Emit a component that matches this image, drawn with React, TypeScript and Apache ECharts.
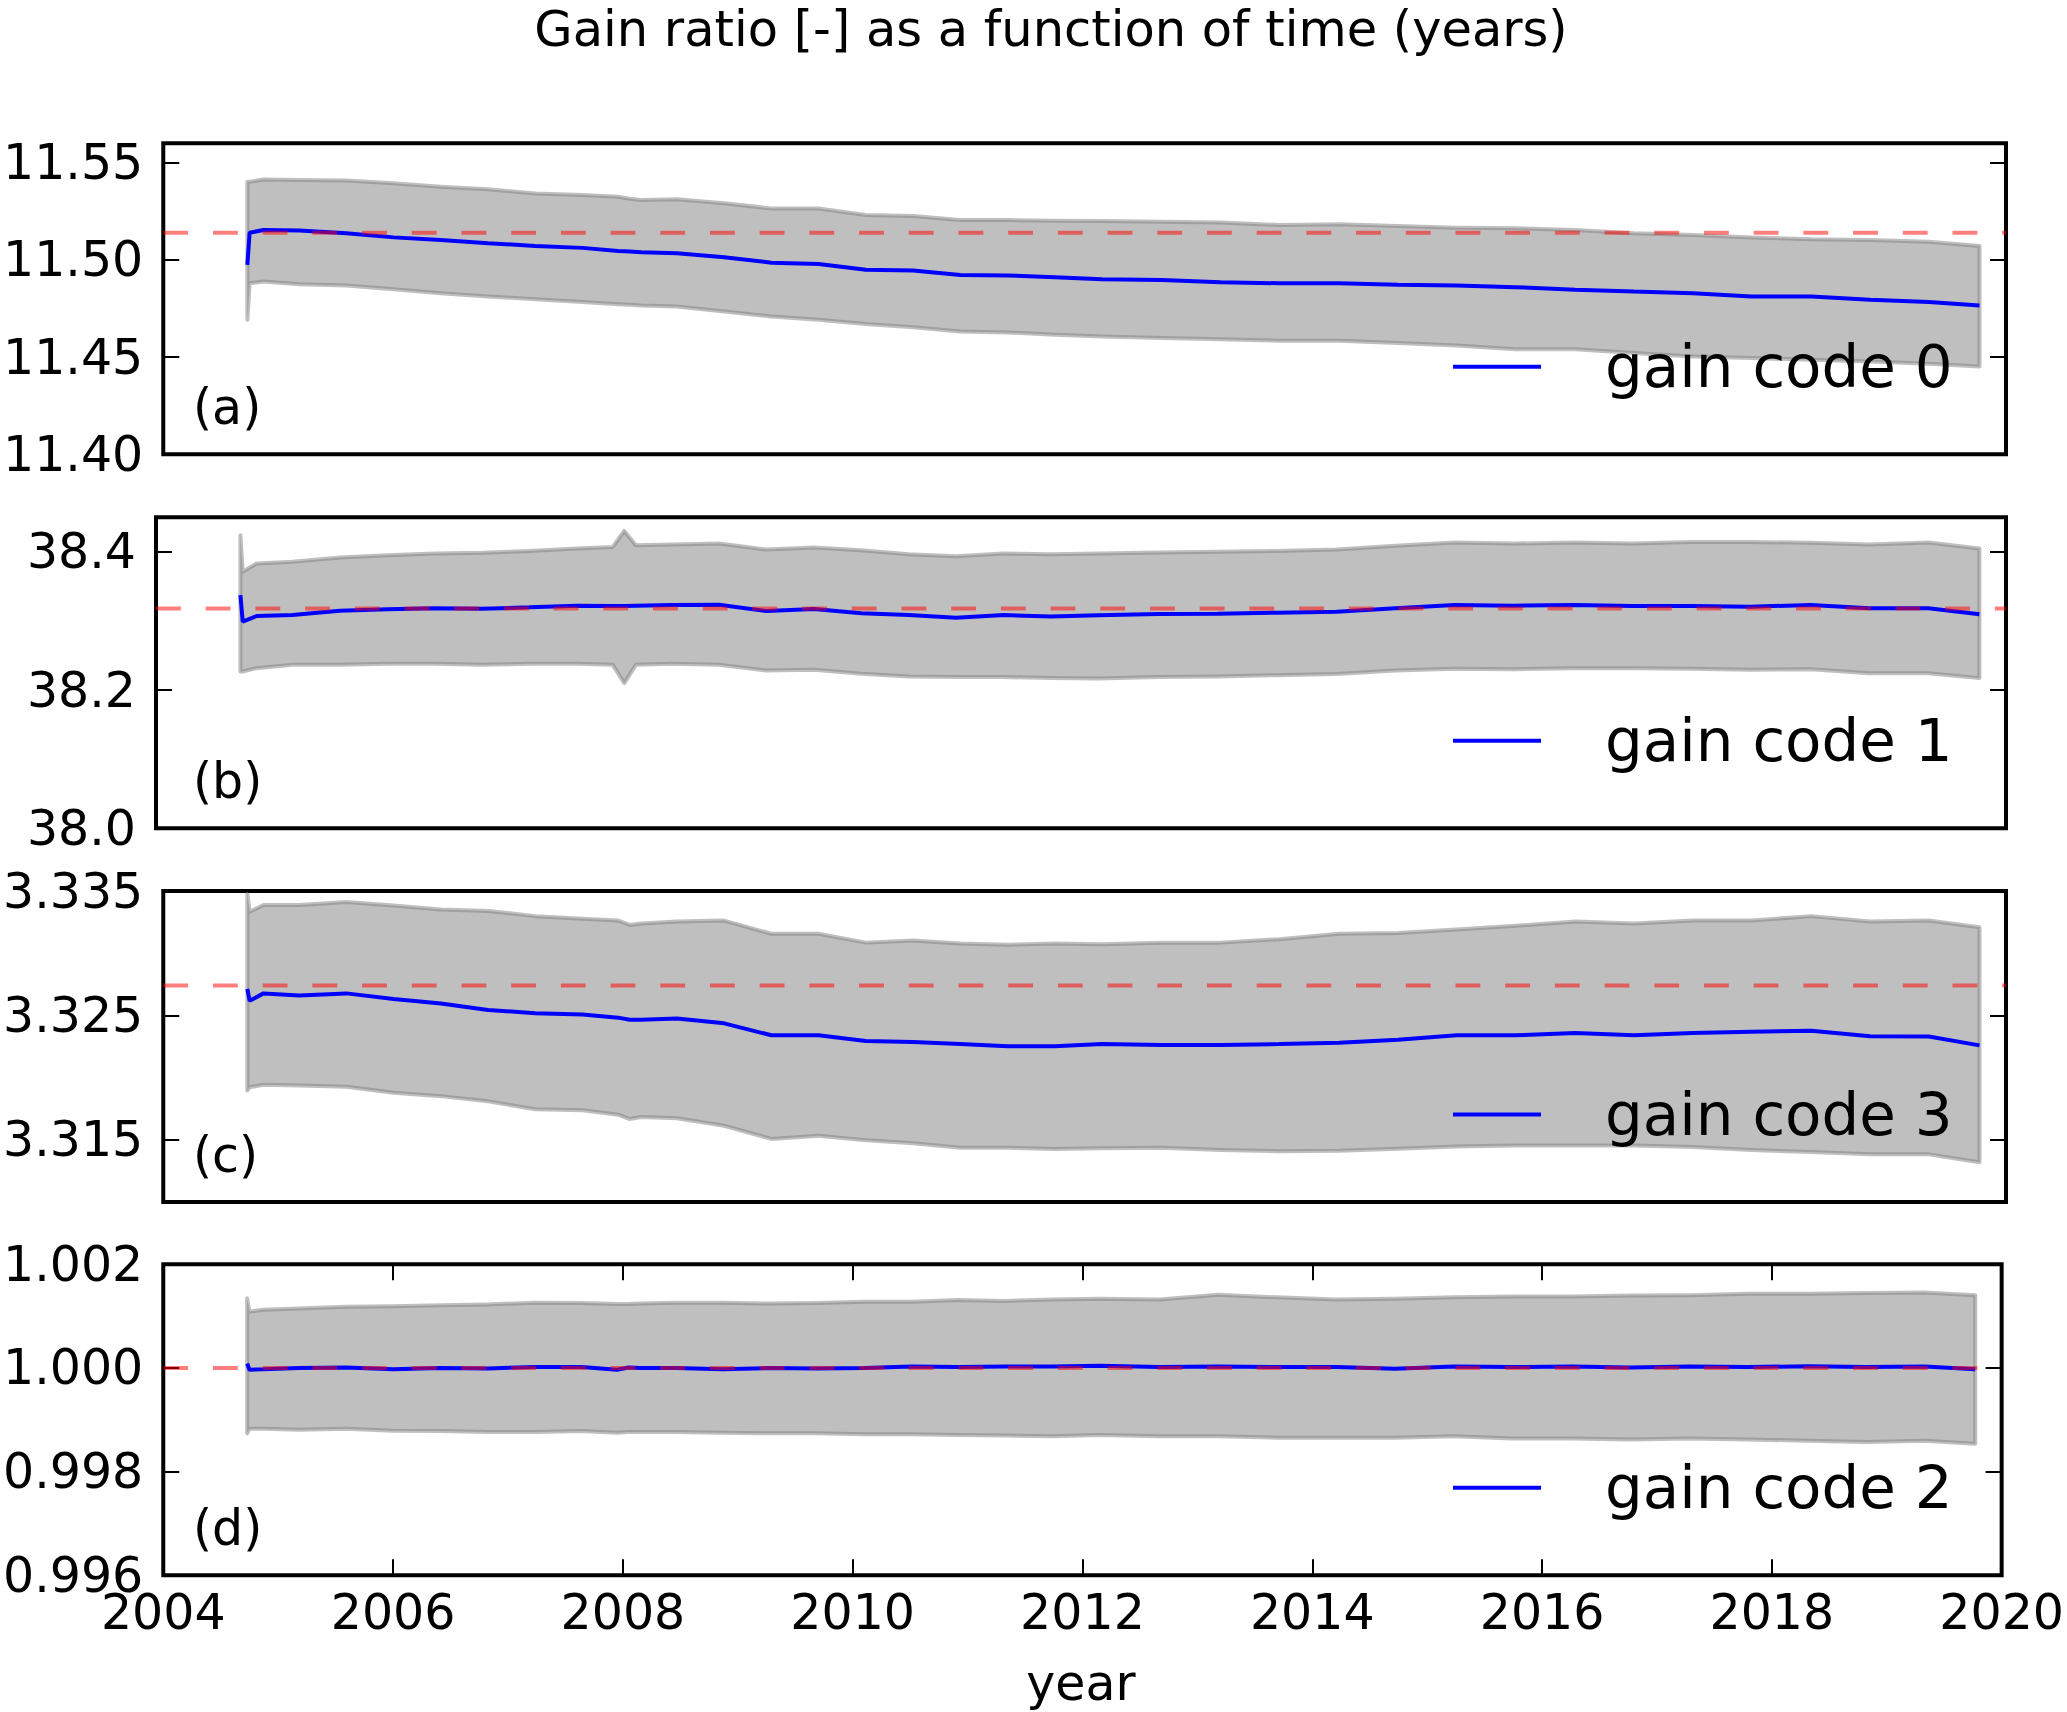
import React, { useEffect, useRef } from "react";
import * as echarts from "echarts";

// ---- time grid (years) ----
const years = [
  2004.73, 2004.75, 2004.87, 2005.18, 2005.59, 2006.0, 2006.41, 2006.82, 2007.23, 2007.64,
  2007.95, 2008.05, 2008.15, 2008.46, 2008.87, 2009.28, 2009.69, 2010.1, 2010.51, 2010.92,
  2011.33, 2011.74, 2012.15, 2012.67, 2013.18, 2013.69, 2014.21, 2014.72, 2015.23, 2015.74,
  2016.26, 2016.77, 2017.28, 2017.79, 2018.31, 2018.82, 2019.33, 2019.77,
];

// ---- gain code 0 (panel a) ----
const gain0Mean = [
  11.4974, 11.514, 11.5154, 11.5151, 11.5137, 11.5116, 11.5103, 11.5086, 11.5072, 11.5062,
  11.5046, 11.5043, 11.5039, 11.5034, 11.5014, 11.4986, 11.4979, 11.4949, 11.4945, 11.4923,
  11.492, 11.4911, 11.4901, 11.4897, 11.4885, 11.488, 11.488, 11.4872, 11.4868, 11.486,
  11.4846, 11.4837, 11.4829, 11.4812, 11.4812, 11.4795, 11.4784, 11.4765,
];
const gain0Upper = [
  11.5402, 11.5402, 11.5414, 11.5411, 11.5408, 11.5394, 11.5377, 11.5363, 11.5342, 11.5334,
  11.5325, 11.5315, 11.5308, 11.5312, 11.5291, 11.5265, 11.5265, 11.5231, 11.5226, 11.5205,
  11.5205, 11.5202, 11.52, 11.5197, 11.5192, 11.518, 11.5183, 11.5175, 11.5166, 11.5163,
  11.5154, 11.5137, 11.5128, 11.5116, 11.5106, 11.5103, 11.5094, 11.5072,
];
const gain0Lower = [
  11.4692, 11.488, 11.4889, 11.4875, 11.4868, 11.4849, 11.4829, 11.4812, 11.4798, 11.4783,
  11.4772, 11.4769, 11.4765, 11.476, 11.4735, 11.4709, 11.4692, 11.467, 11.4654, 11.4632,
  11.4627, 11.4615, 11.4606, 11.4598, 11.4592, 11.4584, 11.4584, 11.4572, 11.456, 11.4541,
  11.4541, 11.4521, 11.4503, 11.4495, 11.4486, 11.4478, 11.4466, 11.4452,
];
const gain0Nominal = 11.514;

// ---- gain code 1 (panel b) ----
const gain1Mean = [
  38.3375, 38.299, 38.3072, 38.3087, 38.3149, 38.3168, 38.3183, 38.3178, 38.3197, 38.3221,
  38.3216, 38.3216, 38.3221, 38.3231, 38.3236, 38.3144, 38.3173, 38.3111, 38.3087, 38.3048,
  38.3087, 38.3063, 38.3082, 38.3101, 38.3106, 38.312, 38.3135, 38.3183, 38.3231, 38.3221,
  38.3231, 38.3216, 38.3216, 38.3207, 38.3231, 38.3183, 38.3183, 38.3096,
];
const gain1Upper = [
  38.424, 38.3712, 38.3832, 38.3856, 38.3918, 38.3952, 38.3976, 38.3986, 38.4014, 38.4048,
  38.4072, 38.4303, 38.4096, 38.4106, 38.412, 38.4034, 38.4062, 38.4024, 38.3966, 38.3938,
  38.3976, 38.3966, 38.3976, 38.399, 38.4, 38.4014, 38.4034, 38.4087, 38.4135, 38.412,
  38.4135, 38.412, 38.4144, 38.4144, 38.413, 38.4106, 38.4135, 38.4048,
];
const gain1Lower = [
  38.2269, 38.2269, 38.2317, 38.2365, 38.2365, 38.238, 38.238, 38.2365, 38.238, 38.238,
  38.2365, 38.2101, 38.2365, 38.238, 38.2365, 38.2284, 38.2293, 38.2236, 38.2197, 38.2188,
  38.2188, 38.2173, 38.2168, 38.2188, 38.2197, 38.2216, 38.2231, 38.2284, 38.2308, 38.2303,
  38.2317, 38.2317, 38.2308, 38.2293, 38.2303, 38.2245, 38.2245, 38.2173,
];
const gain1Nominal = 38.318;

// ---- gain code 3 (panel c) ----
const gain3Mean = [
  3.32713, 3.32617, 3.32677, 3.3266, 3.32677, 3.32631, 3.32596, 3.32543, 3.32518, 3.32507,
  3.32482, 3.32465, 3.32465, 3.32475, 3.32436, 3.3234, 3.3234, 3.32294, 3.32287, 3.3227,
  3.32252, 3.32252, 3.3227, 3.32262, 3.32262, 3.3227, 3.3228, 3.32305, 3.3234, 3.3234,
  3.32358, 3.3234, 3.32358, 3.32369, 3.32376, 3.32333, 3.3233, 3.32259,
];
const gain3Upper = [
  3.33475, 3.33333, 3.33387, 3.33387, 3.33411, 3.33383, 3.33351, 3.3334, 3.33298, 3.33277,
  3.33262, 3.33227, 3.33238, 3.33255, 3.33262, 3.33156, 3.33156, 3.33085, 3.33103, 3.33078,
  3.33067, 3.33078, 3.33071, 3.33085, 3.33085, 3.33113, 3.33156, 3.33163, 3.33191, 3.3322,
  3.33255, 3.33238, 3.33262, 3.33262, 3.33298, 3.33255, 3.33262, 3.33209,
];
const gain3Lower = [
  3.31897, 3.31922, 3.31943, 3.31936, 3.31926, 3.31879, 3.31851, 3.31809, 3.31745, 3.31738,
  3.31702, 3.31667, 3.31684, 3.31674, 3.31613, 3.31507, 3.31532, 3.31496, 3.31472, 3.31436,
  3.31436, 3.31426, 3.31433, 3.31436, 3.31418, 3.31408, 3.31411, 3.31429, 3.31447, 3.31454,
  3.31454, 3.31454, 3.31443, 3.31418, 3.31401, 3.31383, 3.31383, 3.31319,
];
const gain3Nominal = 3.32741;

// ---- gain code 2 (panel d) ----
const gain2Mean = [
  1.000085, 0.999966, 0.999974, 1.0, 1.000009, 0.999974, 1.0, 0.999991, 1.000017, 1.000017,
  0.999966, 1.000009, 1.0, 1.0, 0.999974, 1.0, 0.999991, 1.0, 1.000026, 1.000017,
  1.000026, 1.000026, 1.000043, 1.000017, 1.000026, 1.000017, 1.000017, 0.999983, 1.000026, 1.000017,
  1.000026, 1.000009, 1.000026, 1.000017, 1.000034, 1.000017, 1.000026, 0.999974,
];
const gain2Upper = [
  1.001345, 1.001089, 1.001123, 1.001149, 1.001183, 1.001191, 1.001209, 1.001226, 1.00126, 1.001251,
  1.001234, 1.001234, 1.001243, 1.00126, 1.00126, 1.001243, 1.001251, 1.001277, 1.001277, 1.001311,
  1.001294, 1.001319, 1.001336, 1.001319, 1.001413, 1.001362, 1.001319, 1.001336, 1.001362, 1.001379,
  1.001379, 1.001396, 1.001404, 1.00143, 1.00143, 1.001447, 1.001455, 1.001404,
];
const gain2Lower = [
  0.99874, 0.998826, 0.998826, 0.998809, 0.998826, 0.998791, 0.998783, 0.998766, 0.998766, 0.998783,
  0.998749, 0.998766, 0.998766, 0.998766, 0.998749, 0.99874, 0.99874, 0.998723, 0.998723, 0.998706,
  0.998698, 0.998681, 0.998706, 0.998681, 0.998681, 0.998655, 0.998655, 0.998655, 0.998681, 0.998638,
  0.998638, 0.998621, 0.998638, 0.998621, 0.998596, 0.99857, 0.998596, 0.998536,
];
const gain2Nominal = 1.0;

// ---- ticks ----
const xTicks = [2004, 2006, 2008, 2010, 2012, 2014, 2016, 2018, 2020];
const yTicksA = [11.4, 11.45, 11.5, 11.55];
const yTicksB = [38.0, 38.2, 38.4];
const yTicksC = [3.315, 3.325, 3.335];
const yTicksD = [0.996, 0.998, 1.0, 1.002];

const panelNames = ["gain code 0", "gain code 1", "gain code 3", "gain code 2"];
const panelLetters = ["(a)", "(b)", "(c)", "(d)"];
const titleText = "Gain ratio [-] as a function of time (years)";
const xName = "year";

const FONT = "DejaVu Sans";
const GRID_LEFT = 156;
const GRID_WIDTH = 1850;
const GRID_HEIGHT = 311;
const GRID_TOPS = [143.3, 517.3, 891, 1264.3];

export default function App() {
  const ref = useRef<HTMLDivElement>(null);

  useEffect(() => {
    if (!ref.current) return;
    const chart = echarts.init(ref.current, null, { renderer: "svg" });

    const panels = [
      { mean: gain0Mean, upper: gain0Upper, lower: gain0Lower, nominal: gain0Nominal, ticks: yTicksA, min: 11.4, max: 11.56, dec: 2 },
      { mean: gain1Mean, upper: gain1Upper, lower: gain1Lower, nominal: gain1Nominal, ticks: yTicksB, min: 38.0, max: 38.45, dec: 1 },
      { mean: gain3Mean, upper: gain3Upper, lower: gain3Lower, nominal: gain3Nominal, ticks: yTicksC, min: 3.31, max: 3.335, dec: 3 },
      { mean: gain2Mean, upper: gain2Upper, lower: gain2Lower, nominal: gain2Nominal, ticks: yTicksD, min: 0.996, max: 1.002, dec: 3 },
    ];

    const tickStyle = { color: "#000", width: 2 };

    const grid = panels.map((_, i) => ({
      left: GRID_LEFT,
      top: GRID_TOPS[i],
      width: GRID_WIDTH,
      height: GRID_HEIGHT,
      show: true,
      borderColor: "#000",
      borderWidth: 4,
      backgroundColor: "transparent",
      containLabel: false,
    }));

    const xAxis: any[] = panels.map((_, i) => {
      const isLast = i === panels.length - 1;
      return {
        type: "value",
        gridIndex: i,
        min: 2004,
        max: 2020,
        interval: 2,
        show: true,
        axisLine: { show: false },
        splitLine: { show: false },
        axisTick: {
          show: isLast,
          inside: true,
          length: 16,
          lineStyle: tickStyle,
          customValues: xTicks,
        },
        axisLabel: {
          show: isLast,
          customValues: xTicks,
          formatter: (v: number) => String(Math.round(v)),
          fontFamily: FONT,
          fontSize: 49,
          color: "#000",
          margin: 13,
        },
      };
    });
    // top ticks for the bottom panel
    xAxis.push({
      type: "value",
      gridIndex: 3,
      position: "top",
      min: 2004,
      max: 2020,
      interval: 2,
      axisLine: { show: false },
      splitLine: { show: false },
      axisTick: { show: true, inside: true, length: 16, lineStyle: tickStyle, customValues: xTicks },
      axisLabel: { show: false },
    });

    const yAxis: any[] = [];
    panels.forEach((p, i) => {
      yAxis.push({
        type: "value",
        gridIndex: i,
        position: "left",
        min: p.min,
        max: p.max,
        axisLine: { show: false },
        splitLine: { show: false },
        axisTick: { show: true, inside: true, length: 16, lineStyle: tickStyle, customValues: p.ticks },
        axisLabel: {
          show: true,
          customValues: p.ticks,
          formatter: (v: number) => v.toFixed(p.dec),
          fontFamily: FONT,
          fontSize: 49,
          color: "#000",
          margin: 20,
        },
      });
    });
    panels.forEach((p, i) => {
      yAxis.push({
        type: "value",
        gridIndex: i,
        position: "right",
        min: p.min,
        max: p.max,
        axisLine: { show: false },
        splitLine: { show: false },
        axisTick: { show: true, inside: true, length: 16, lineStyle: tickStyle, customValues: p.ticks },
        axisLabel: { show: false },
      });
    });

    const series: any[] = [];
    panels.forEach((p, i) => {
      series.push({
        type: "custom",
        xAxisIndex: i,
        yAxisIndex: i,
        silent: true,
        clip: false,
        z: 1,
        data: years.map((t, k) => [t, p.lower[k], p.upper[k]]),
        encode: { x: 0, y: [1, 2] },
        renderItem: (params: any, api: any) => {
          if (params.dataIndex !== 0) return null;
          const pts: number[][] = [];
          for (let k = 0; k < years.length; k++) pts.push(api.coord([years[k], p.upper[k]]));
          for (let k = years.length - 1; k >= 0; k--) pts.push(api.coord([years[k], p.lower[k]]));
          return {
            type: "polygon",
            shape: { points: pts },
            style: {
              fill: "rgba(128,128,128,0.5)",
              stroke: "rgba(128,128,128,0.5)",
              lineWidth: 4,
              lineJoin: "round",
            },
          };
        },
      });
      series.push({
        type: "line",
        name: panelNames[i],
        xAxisIndex: i,
        yAxisIndex: i,
        data: years.map((t, k) => [t, p.mean[k]]),
        showSymbol: false,
        symbol: "none",
        z: 3,
        lineStyle: { color: "#0000ff", width: 4 },
        itemStyle: { color: "#0000ff" },
      });
      series.push({
        type: "line",
        xAxisIndex: i,
        yAxisIndex: i,
        silent: true,
        data: [
          [2004, p.nominal],
          [2020, p.nominal],
        ],
        showSymbol: false,
        symbol: "none",
        z: 4,
        lineStyle: { color: "rgba(255,0,0,0.5)", width: 4, type: [24.85, 24.85] },
      });
    });

    const legend = panels.map((_, i) => ({
      data: [panelNames[i]],
      left: 1453,
      top: GRID_TOPS[i] + GRID_HEIGHT - 87.5 - 30,
      padding: 0,
      icon: "rect",
      itemWidth: 88,
      itemHeight: 4,
      selectedMode: false,
      textStyle: {
        fontFamily: FONT,
        fontSize: 59.5,
        color: "#000",
        padding: [0, 0, 0, 59],
      },
    }));

    const graphic: any[] = [
      {
        type: "text",
        x: 1051,
        y: 29,
        style: {
          text: titleText,
          font: `49.5px "${FONT}"`,
          fill: "#000",
          align: "center",
          verticalAlign: "middle",
        },
      },
      {
        type: "text",
        x: GRID_LEFT + GRID_WIDTH / 2,
        y: 1708,
        style: {
          text: xName,
          font: `49px "${FONT}"`,
          fill: "#000",
          align: "center",
          verticalAlign: "bottom",
        },
      },
      ...panelLetters.map((t, i) => ({
        type: "text",
        x: 193,
        y: GRID_TOPS[i] + GRID_HEIGHT - 47,
        z: 10,
        style: { text: t, font: `49px "${FONT}"`, fill: "#000", align: "left", verticalAlign: "middle" },
      })),
    ];

    chart.setOption({
      animation: false,
      backgroundColor: "#ffffff",
      textStyle: { fontFamily: FONT },
      grid,
      xAxis,
      yAxis,
      legend,
      series,
      graphic,
    });

    return () => chart.dispose();
  }, []);

  return (
    <div
      ref={ref}
      style={{ position: "fixed", left: 0, top: 0, width: 2067, height: 1712, background: "#fff" }}
    />
  );
}
